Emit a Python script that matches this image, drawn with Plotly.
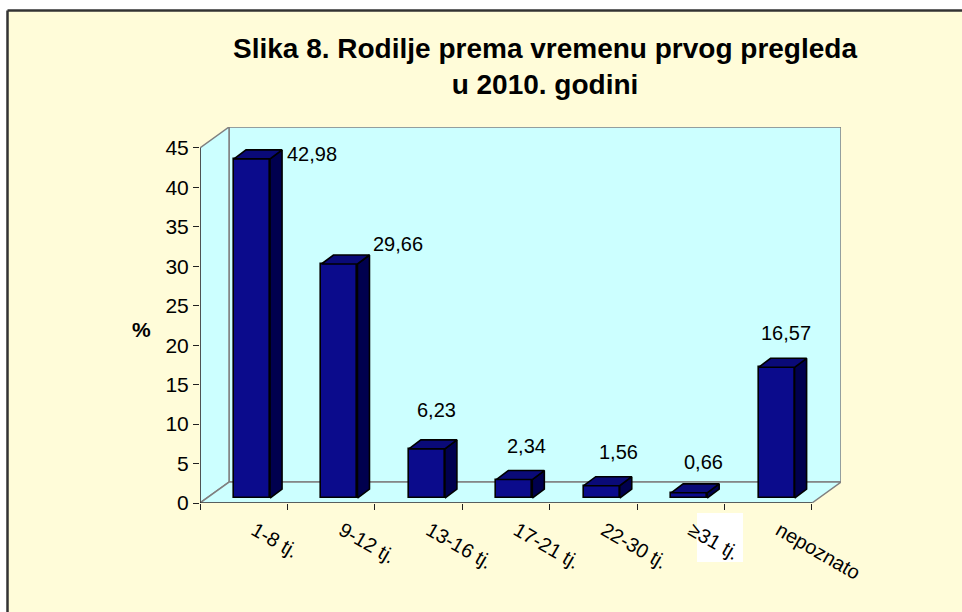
import plotly.graph_objects as go

# ---------------- data ----------------
categories = ["1-8 tj.", "9-12 tj.", "13-16 tj.", "17-21 tj.", "22-30 tj.", "≥31 tj.", "nepoznato"]
values = [42.98, 29.66, 6.23, 2.34, 1.56, 0.66, 16.57]
value_labels = ["42,98", "29,66", "6,23", "2,34", "1,56", "0,66", "16,57"]
y_tick_values = [0, 5, 10, 15, 20, 25, 30, 35, 40, 45]
title_lines = ["Slika 8. Rodilje prema vremenu prvog pregleda", "u 2010. godini"]
y_axis_title = "%"

# ---------------- style / geometry ----------------
W, H = 962, 612
PLOT_L, PLOT_R, PLOT_T, PLOT_B = 200, 841, 127, 503
Y_TOP = 45
DEPTH_X, DEPTH_Y = 0.332, 2.65          # 3D box depth in data units
X_MIN, X_MAX = -0.5, len(categories) - 0.5
BAR_SHIFT, BAR_WIDTH, BAR_BASE = 0.095, 0.412, 0.63
BAR_DX, BAR_DY = 0.1375, 1.14
label_shift = [(54, -4), (53, 11), (4, 30), (6, 25), (11, 25), (8, 22), (3, 25)]

FONT = "Liberation Sans, Arial, sans-serif"
CREAM = "#FFFCD9"
CYAN = "#CCFFFF"
GREY = "#808080"
FRONT = "#0B0B8C"
TOP = "#0A0A78"
SIDE = "#00004E"


def px_x(px):
    return (px - PLOT_L) / (PLOT_R - PLOT_L)


def px_y(py):
    return (PLOT_B - py) / (PLOT_B - PLOT_T)


positions = list(range(len(categories)))
bar_x = [p + BAR_SHIFT for p in positions]

fig = go.Figure()

# front faces
fig.add_trace(go.Bar(
    x=bar_x, y=values, base=BAR_BASE, width=BAR_WIDTH,
    marker=dict(color=FRONT, line=dict(color="black", width=1.6)),
    hoverinfo="skip", showlegend=False,
))

# side and top faces
side_x, side_y, top_x, top_y = [], [], [], []
for bx, v in zip(bar_x, values):
    x0, x1 = bx - BAR_WIDTH / 2, bx + BAR_WIDTH / 2
    y0, y1 = BAR_BASE, BAR_BASE + v
    side_x += [x1, x1 + BAR_DX, x1 + BAR_DX, x1, x1, None]
    side_y += [y0, y0 + BAR_DY, y1 + BAR_DY, y1, y0, None]
    top_x += [x0, x1, x1 + BAR_DX, x0 + BAR_DX, x0, None]
    top_y += [y1, y1, y1 + BAR_DY, y1 + BAR_DY, y1, None]

fig.add_trace(go.Scatter(x=side_x, y=side_y, mode="lines", fill="toself", fillcolor=SIDE,
                         line=dict(color="black", width=1.6), hoverinfo="skip", showlegend=False))
fig.add_trace(go.Scatter(x=top_x, y=top_y, mode="lines", fill="toself", fillcolor=TOP,
                         line=dict(color="black", width=1.6), hoverinfo="skip", showlegend=False))

shapes = []
# cream frame (white strip top/left)
shapes.append(dict(type="rect", xref="paper", yref="paper", layer="below",
                   x0=px_x(7.5), x1=px_x(980), y0=px_y(10.5), y1=px_y(640),
                   fillcolor=CREAM, line=dict(width=0)))
shapes.append(dict(type="line", xref="paper", yref="paper", layer="below",
                   x0=px_x(7.5), x1=px_x(980), y0=px_y(10.5), y1=px_y(10.5),
                   line=dict(color="#333333", width=2.5)))
shapes.append(dict(type="line", xref="paper", yref="paper", layer="below",
                   x0=px_x(7.5), x1=px_x(7.5), y0=px_y(10.5), y1=px_y(640),
                   line=dict(color="#333333", width=2.5)))
# white box behind the 6th category label
shapes.append(dict(type="rect", xref="paper", yref="paper", layer="below",
                   x0=px_x(697), x1=px_x(743), y0=px_y(513), y1=px_y(562),
                   fillcolor="white", line=dict(width=0)))

bx0, bx1 = X_MIN + DEPTH_X, X_MAX + DEPTH_X
by0, by1 = DEPTH_Y, Y_TOP + DEPTH_Y
# back wall
shapes.append(dict(type="path", xref="x", yref="y", layer="below",
                   path=f"M{bx0},{by0} L{bx1},{by0} L{bx1},{by1} L{bx0},{by1} Z",
                   fillcolor=CYAN, line=dict(color=GREY, width=1.5)))
# left wall
shapes.append(dict(type="path", xref="x", yref="y", layer="below",
                   path=f"M{X_MIN},0 L{bx0},{by0} L{bx0},{by1} L{X_MIN},{Y_TOP} Z",
                   fillcolor=CYAN, line=dict(color=GREY, width=1.5)))
# floor
shapes.append(dict(type="path", xref="x", yref="y", layer="below",
                   path=f"M{X_MIN},0 L{bx0},{by0} L{bx1},{by0} L{X_MAX},0 Z",
                   fillcolor=CYAN, line=dict(color=GREY, width=1.5)))
# front axes lines
shapes.append(dict(type="line", xref="x", yref="y", layer="above",
                   x0=X_MIN, x1=X_MIN, y0=0, y1=Y_TOP, line=dict(color="#202020", width=1.2)))
shapes.append(dict(type="line", xref="x", yref="y", layer="above",
                   x0=X_MIN, x1=X_MAX, y0=0, y1=0, line=dict(color="#202020", width=1.2)))

annotations = []
for bx, v, lab, (dx, dy) in zip(bar_x, values, value_labels, label_shift):
    annotations.append(dict(x=bx + BAR_DX / 2, y=BAR_BASE + v + BAR_DY, xref="x", yref="y",
                            xanchor="center", yanchor="middle",
                            text=lab, showarrow=False, xshift=dx, yshift=dy,
                            font=dict(family=FONT, size=20, color="black")))
annotations.append(dict(x=px_x(141), y=px_y(329), xref="paper", yref="paper",
                        xanchor="center", yanchor="middle",
                        text=f"<b>{y_axis_title}</b>", showarrow=False,
                        font=dict(family=FONT, size=21, color="black")))
# title
annotations.append(dict(x=px_x(545), y=px_y(31), xref="paper", yref="paper",
                        xanchor="center", yanchor="top", align="center",
                        text="<b>" + "<br>".join(title_lines) + "</b>", showarrow=False,
                        font=dict(family=FONT, size=28, color="black")))

fig.update_layout(
    width=W, height=H,
    margin=dict(l=PLOT_L, r=W - PLOT_R, t=PLOT_T, b=H - PLOT_B, pad=0),
    paper_bgcolor="white", plot_bgcolor="rgba(0,0,0,0)",
    shapes=shapes, annotations=annotations,
    bargap=0, showlegend=False,
    xaxis=dict(range=[X_MIN, X_MAX + DEPTH_X], tickmode="array", tickvals=positions,
               ticktext=categories, ticks="", tickangle=30, showgrid=False, zeroline=False,
               showline=False, ticklabelshift=11, ticklabelstandoff=11,
               tickfont=dict(family=FONT, size=20, color="black"),
               minor=dict(tick0=X_MIN, dtick=1, ticks="outside", ticklen=6,
                          tickcolor="#202020", tickwidth=1.2, showgrid=False),
               fixedrange=True),
    yaxis=dict(range=[0, Y_TOP + DEPTH_Y], tickmode="array", tickvals=y_tick_values,
               ticks="outside", ticklen=6, tickcolor="#202020", tickwidth=1.2,
               showgrid=False, zeroline=False, showline=False,
               tickfont=dict(family=FONT, size=21, color="black"), fixedrange=True),
)

fig.write_html("out.html", config={"displayModeBar": False},
               post_script="document.body.style.margin='0';")
